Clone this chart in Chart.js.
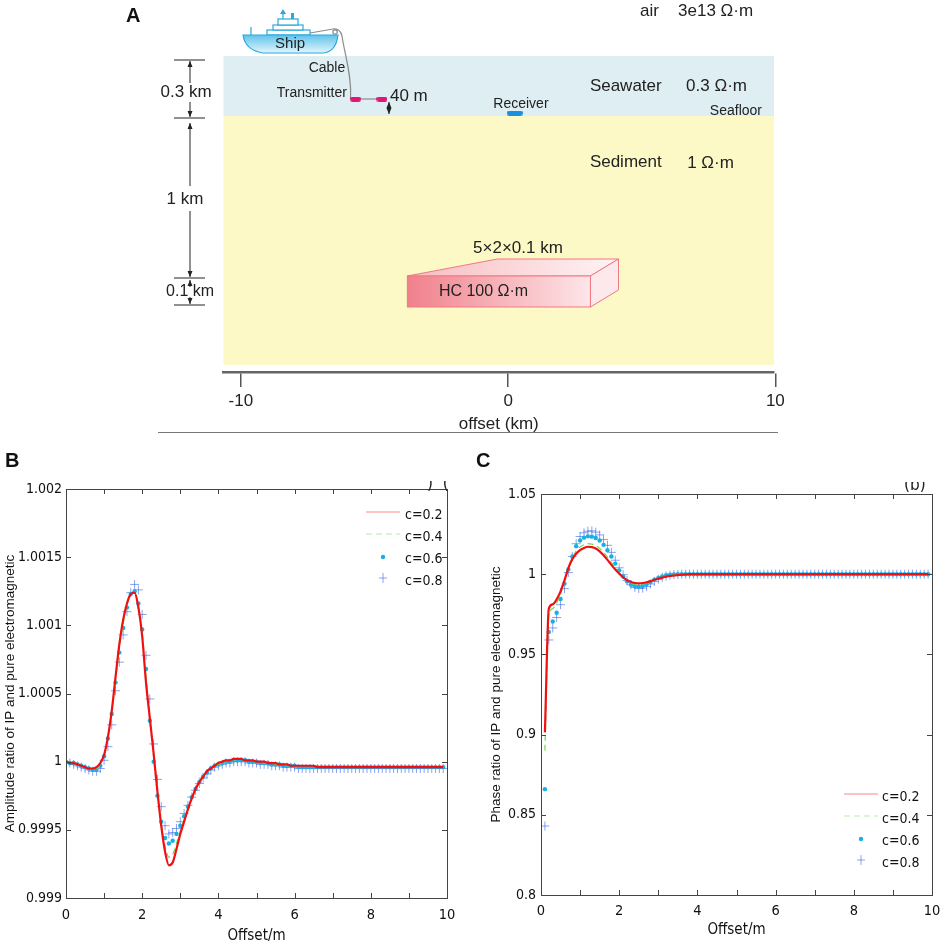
<!DOCTYPE html>
<html>
<head>
<meta charset="utf-8">
<script src="https://cdn.jsdelivr.net/npm/chart.js@4.4.0/dist/chart.umd.min.js"></script>
<style>
  html, body { margin: 0; padding: 0; background: #fff; }
  body { width: 941px; height: 942px; position: relative; overflow: hidden; }
  .panel { position: absolute; }
  .tag { position: absolute; font: bold 20px "Liberation Sans", Arial, sans-serif; line-height: 20px; color: #111; }
</style>
</head>
<body>
<div class="panel" style="left:0;top:0;width:941px;height:440px"><canvas id="modelChart"></canvas></div>
<div class="panel" style="left:0;top:440px;width:470px;height:502px"><canvas id="ampChart"></canvas></div>
<div class="panel" style="left:470px;top:440px;width:471px;height:502px"><canvas id="phaseChart"></canvas></div>
<div class="tag" style="left:126px;top:5px">A</div>
<div class="tag" style="left:5px;top:450px">B</div>
<div class="tag" style="left:476px;top:450px">C</div>
<script>
const NARROW = '"Liberation Sans Narrow", "DejaVu Sans Condensed", "Arial Narrow", sans-serif';
const SANS = '"Liberation Sans", Arial, Helvetica, sans-serif';

// ---- panel A: model ----
const modelTicks = [-10, 0, 10];
const layerNames = ['Seawater', 'Sediment'];
const layerRho = ['0.3 Ω·m', '1 Ω·m'];
const layerTop = [0, 0.3];
const layerBottom = [0.3, 1.545];
const txOffsets = [-5.71, -4.72];
const txDepth = 0.215;
const rxOffset = 0.25;
const rxDepth = 0.285;
const hcOffsets = [-3.77, 3.08];
const hcDepths = [1.1, 1.255];

// ---- panels B and C: offset in m ----
const offsets = [
  0.0, 0.1, 0.2, 0.3, 0.4, 0.5, 0.6, 0.7, 0.8, 0.9,
  1.0, 1.1, 1.2, 1.3, 1.4, 1.5, 1.6, 1.7, 1.8, 1.9,
  2.0, 2.1, 2.2, 2.3, 2.4, 2.5, 2.6, 2.7, 2.8, 2.9,
  3.0, 3.1, 3.2, 3.3, 3.4, 3.5, 3.6, 3.7, 3.8, 3.9,
  4.0, 4.1, 4.2, 4.3, 4.4, 4.5, 4.6, 4.7, 4.8, 4.9,
  5.0, 5.1, 5.2, 5.3, 5.4, 5.5, 5.6, 5.7, 5.8, 5.9,
  6.0, 6.1, 6.2, 6.3, 6.4, 6.5, 6.6, 6.7, 6.8, 6.9,
  7.0, 7.1, 7.2, 7.3, 7.4, 7.5, 7.6, 7.7, 7.8, 7.9,
  8.0, 8.1, 8.2, 8.3, 8.4, 8.5, 8.6, 8.7, 8.8, 8.9,
  9.0, 9.1, 9.2, 9.3, 9.4, 9.5, 9.6, 9.7, 9.8, 9.9
];
const phaseOffsets = offsets.slice(1);
const offsetTicks = [0, 1, 2, 3, 4, 5, 6, 7, 8, 9, 10];
const offsetTickLabels = ['0', '', '2', '', '4', '', '6', '', '8', '', '10'];
const seriesLabels = ['c=0.2', 'c=0.4', 'c=0.6', 'c=0.8'];

const ampTicks = [0.999, 0.9995, 1, 1.0005, 1.001, 1.0015, 1.002];
const ampC02 = [
  1.00000, 0.99999, 0.99999, 0.99998, 0.99997, 0.99996, 0.99995, 0.99995, 0.99996, 0.99999,
  1.00005, 1.00018, 1.00037, 1.00062, 1.00086, 1.00104, 1.00116, 1.00123, 1.00124, 1.00113,
  1.00092, 1.00058, 1.00032, 1.00006, 0.99978, 0.99953, 0.99934, 0.99924, 0.99926, 0.99936,
  0.99947, 0.99956, 0.99965, 0.99973, 0.99980, 0.99985, 0.99989, 0.99993, 0.99995, 0.99997,
  0.99999, 1.00000, 1.00001, 1.00001, 1.00002, 1.00002, 1.00002, 1.00001, 1.00001, 1.00001,
  1.00000, 1.00000, 1.00000, 0.99999, 0.99999, 0.99999, 0.99998, 0.99998, 0.99998, 0.99997,
  0.99997, 0.99997, 0.99997, 0.99997, 0.99997, 0.99997, 0.99996, 0.99996, 0.99996, 0.99996,
  0.99996, 0.99996, 0.99996, 0.99996, 0.99996, 0.99996, 0.99996, 0.99996, 0.99996, 0.99996,
  0.99996, 0.99996, 0.99996, 0.99996, 0.99996, 0.99996, 0.99996, 0.99996, 0.99996, 0.99996,
  0.99996, 0.99996, 0.99996, 0.99996, 0.99996, 0.99996, 0.99996, 0.99996, 0.99996, 0.99996
];
const ampC04 = [
  1.00000, 0.99999, 0.99999, 0.99998, 0.99997, 0.99996, 0.99995, 0.99995, 0.99995, 0.99998,
  1.00005, 1.00018, 1.00036, 1.00060, 1.00083, 1.00101, 1.00115, 1.00123, 1.00125, 1.00114,
  1.00094, 1.00062, 1.00031, 1.00003, 0.99976, 0.99954, 0.99938, 0.99930, 0.99932, 0.99940,
  0.99949, 0.99958, 0.99966, 0.99973, 0.99980, 0.99985, 0.99989, 0.99993, 0.99995, 0.99997,
  0.99998, 0.99999, 1.00000, 1.00001, 1.00001, 1.00002, 1.00001, 1.00001, 1.00001, 1.00000,
  1.00000, 1.00000, 0.99999, 0.99999, 0.99999, 0.99998, 0.99998, 0.99998, 0.99997, 0.99997,
  0.99997, 0.99997, 0.99997, 0.99997, 0.99997, 0.99997, 0.99996, 0.99996, 0.99996, 0.99996,
  0.99996, 0.99996, 0.99996, 0.99996, 0.99996, 0.99996, 0.99996, 0.99996, 0.99996, 0.99996,
  0.99996, 0.99996, 0.99996, 0.99996, 0.99996, 0.99996, 0.99996, 0.99996, 0.99996, 0.99996,
  0.99996, 0.99996, 0.99996, 0.99996, 0.99996, 0.99996, 0.99996, 0.99996, 0.99996, 0.99996
];
const ampC06 = [
  1.00000, 0.99999, 0.99999, 0.99998, 0.99997, 0.99996, 0.99995, 0.99994, 0.99994, 0.99997,
  1.00004, 1.00017, 1.00035, 1.00058, 1.00080, 1.00098, 1.00113, 1.00123, 1.00125, 1.00116,
  1.00097, 1.00068, 1.00030, 1.00000, 0.99975, 0.99956, 0.99944, 0.99940, 0.99942, 0.99947,
  0.99953, 0.99960, 0.99967, 0.99974, 0.99980, 0.99985, 0.99989, 0.99992, 0.99995, 0.99997,
  0.99998, 0.99999, 1.00000, 1.00000, 1.00001, 1.00001, 1.00001, 1.00001, 1.00000, 1.00000,
  1.00000, 0.99999, 0.99999, 0.99999, 0.99998, 0.99998, 0.99998, 0.99997, 0.99997, 0.99997,
  0.99997, 0.99996, 0.99996, 0.99996, 0.99996, 0.99996, 0.99996, 0.99996, 0.99996, 0.99996,
  0.99996, 0.99996, 0.99996, 0.99996, 0.99996, 0.99996, 0.99996, 0.99996, 0.99996, 0.99996,
  0.99996, 0.99996, 0.99996, 0.99996, 0.99996, 0.99996, 0.99996, 0.99996, 0.99996, 0.99996,
  0.99996, 0.99996, 0.99996, 0.99996, 0.99996, 0.99996, 0.99996, 0.99996, 0.99996, 0.99996
];
const ampC08 = [
  1.00000, 0.99999, 0.99998, 0.99997, 0.99996, 0.99995, 0.99994, 0.99993, 0.99993, 0.99995,
  1.00001, 1.00011, 1.00027, 1.00052, 1.00073, 1.00093, 1.00110, 1.00124, 1.00130, 1.00126,
  1.00108, 1.00078, 1.00046, 1.00013, 0.99987, 0.99967, 0.99953, 0.99947, 0.99948, 0.99951,
  0.99956, 0.99962, 0.99968, 0.99974, 0.99979, 0.99984, 0.99988, 0.99991, 0.99994, 0.99996,
  0.99997, 0.99998, 0.99999, 0.99999, 1.00000, 1.00000, 1.00000, 1.00000, 0.99999, 0.99999,
  0.99999, 0.99998, 0.99998, 0.99998, 0.99997, 0.99997, 0.99997, 0.99996, 0.99996, 0.99996,
  0.99996, 0.99995, 0.99995, 0.99995, 0.99995, 0.99995, 0.99995, 0.99995, 0.99995, 0.99995,
  0.99995, 0.99995, 0.99995, 0.99995, 0.99995, 0.99995, 0.99995, 0.99995, 0.99995, 0.99995,
  0.99995, 0.99995, 0.99995, 0.99995, 0.99995, 0.99995, 0.99995, 0.99995, 0.99995, 0.99995,
  0.99995, 0.99995, 0.99995, 0.99995, 0.99995, 0.99995, 0.99995, 0.99995, 0.99995, 0.99995
];

const phaseTicks = [0.8, 0.85, 0.9, 0.95, 1, 1.05];
const phaseC02 = [
          0.9014, 0.9785, 0.9812, 0.9843, 0.9893, 0.9962, 1.0038, 1.0094, 1.0128,
  1.0150, 1.0164, 1.0171, 1.0169, 1.0160, 1.0142, 1.0118, 1.0089, 1.0058, 1.0029,
  1.0004, 0.9981, 0.9963, 0.9951, 0.9945, 0.9943, 0.9945, 0.9950, 0.9957, 0.9965,
  0.9972, 0.9979, 0.9985, 0.9989, 0.9992, 0.9995, 0.9997, 0.9999, 1.0000, 1.0000,
  1.0000, 1.0000, 1.0000, 1.0000, 1.0000, 1.0000, 1.0000, 1.0000, 1.0000, 1.0000,
  1.0000, 1.0000, 1.0000, 1.0000, 1.0000, 1.0000, 1.0000, 1.0000, 1.0000, 1.0000,
  1.0000, 1.0000, 1.0000, 1.0000, 1.0000, 1.0000, 1.0000, 1.0000, 1.0000, 1.0000,
  1.0000, 1.0000, 1.0000, 1.0000, 1.0000, 1.0000, 1.0000, 1.0000, 1.0000, 1.0000,
  1.0000, 1.0000, 1.0000, 1.0000, 1.0000, 1.0000, 1.0000, 1.0000, 1.0000, 1.0000,
  1.0000, 1.0000, 1.0000, 1.0000, 1.0000, 1.0000, 1.0000, 1.0000, 1.0000, 1.0000
];
const phaseC04 = [
          0.8900, 0.9740, 0.9785, 0.9820, 0.9878, 0.9955, 1.0036, 1.0100, 1.0145,
  1.0170, 1.0184, 1.0190, 1.0188, 1.0179, 1.0161, 1.0136, 1.0106, 1.0072, 1.0039,
  1.0010, 0.9983, 0.9962, 0.9946, 0.9938, 0.9936, 0.9939, 0.9946, 0.9955, 0.9965,
  0.9974, 0.9981, 0.9987, 0.9991, 0.9994, 0.9996, 0.9998, 0.9999, 1.0000, 1.0000,
  1.0000, 1.0000, 1.0000, 1.0000, 1.0000, 1.0000, 1.0000, 1.0000, 1.0000, 1.0000,
  1.0000, 1.0000, 1.0000, 1.0000, 1.0000, 1.0000, 1.0000, 1.0000, 1.0000, 1.0000,
  1.0000, 1.0000, 1.0000, 1.0000, 1.0000, 1.0000, 1.0000, 1.0000, 1.0000, 1.0000,
  1.0000, 1.0000, 1.0000, 1.0000, 1.0000, 1.0000, 1.0000, 1.0000, 1.0000, 1.0000,
  1.0000, 1.0000, 1.0000, 1.0000, 1.0000, 1.0000, 1.0000, 1.0000, 1.0000, 1.0000,
  1.0000, 1.0000, 1.0000, 1.0000, 1.0000, 1.0000, 1.0000, 1.0000, 1.0000, 1.0000
];
const phaseC06 = [
          0.8660, 0.9640, 0.9705, 0.9760, 0.9845, 0.9940, 1.0030, 1.0110, 1.0175,
  1.0210, 1.0228, 1.0236, 1.0234, 1.0226, 1.0210, 1.0183, 1.0150, 1.0110, 1.0066,
  1.0024, 0.9986, 0.9955, 0.9935, 0.9925, 0.9922, 0.9926, 0.9937, 0.9952, 0.9966,
  0.9977, 0.9986, 0.9993, 0.9997, 0.9999, 1.0000, 1.0000, 1.0000, 1.0000, 1.0000,
  1.0000, 1.0000, 1.0000, 1.0000, 1.0000, 1.0000, 1.0000, 1.0000, 1.0000, 1.0000,
  1.0000, 1.0000, 1.0000, 1.0000, 1.0000, 1.0000, 1.0000, 1.0000, 1.0000, 1.0000,
  1.0000, 1.0000, 1.0000, 1.0000, 1.0000, 1.0000, 1.0000, 1.0000, 1.0000, 1.0000,
  1.0000, 1.0000, 1.0000, 1.0000, 1.0000, 1.0000, 1.0000, 1.0000, 1.0000, 1.0000,
  1.0000, 1.0000, 1.0000, 1.0000, 1.0000, 1.0000, 1.0000, 1.0000, 1.0000, 1.0000,
  1.0000, 1.0000, 1.0000, 1.0000, 1.0000, 1.0000, 1.0000, 1.0000, 1.0000, 1.0000
];
const phaseC08 = [
          0.8430, 0.9590, 0.9665, 0.9730, 0.9810, 0.9910, 1.0010, 1.0110, 1.0190,
  1.0235, 1.0258, 1.0268, 1.0270, 1.0262, 1.0245, 1.0216, 1.0180, 1.0136, 1.0087,
  1.0040, 0.9997, 0.9961, 0.9934, 0.9918, 0.9911, 0.9913, 0.9923, 0.9939, 0.9955,
  0.9969, 0.9980, 0.9988, 0.9994, 0.9997, 0.9999, 1.0000, 1.0000, 1.0000, 1.0000,
  1.0000, 1.0000, 1.0000, 1.0000, 1.0000, 1.0000, 1.0000, 1.0000, 1.0000, 1.0000,
  1.0000, 1.0000, 1.0000, 1.0000, 1.0000, 1.0000, 1.0000, 1.0000, 1.0000, 1.0000,
  1.0000, 1.0000, 1.0000, 1.0000, 1.0000, 1.0000, 1.0000, 1.0000, 1.0000, 1.0000,
  1.0000, 1.0000, 1.0000, 1.0000, 1.0000, 1.0000, 1.0000, 1.0000, 1.0000, 1.0000,
  1.0000, 1.0000, 1.0000, 1.0000, 1.0000, 1.0000, 1.0000, 1.0000, 1.0000, 1.0000,
  1.0000, 1.0000, 1.0000, 1.0000, 1.0000, 1.0000, 1.0000, 1.0000, 1.0000, 1.0000
];

Chart.defaults.color = '#111';
Chart.defaults.font.family = SANS;

function capsule(w, h, color) {
  const c = document.createElement('canvas');
  c.width = w; c.height = h;
  const g = c.getContext('2d');
  const r = h / 2;
  g.fillStyle = color;
  g.beginPath();
  g.moveTo(r, 0); g.lineTo(w - r, 0);
  g.arc(w - r, r, r, -Math.PI / 2, Math.PI / 2);
  g.lineTo(r, h);
  g.arc(r, r, r, Math.PI / 2, Math.PI * 1.5);
  g.fill();
  return c;
}

function arrow(ctx, x, y0, y1) {
  ctx.beginPath(); ctx.moveTo(x, y0); ctx.lineTo(x, y1); ctx.stroke();
  const d = y1 > y0 ? 1 : -1;
  ctx.beginPath();
  ctx.moveTo(x, y1); ctx.lineTo(x - 2.5, y1 - d * 6); ctx.lineTo(x + 2.5, y1 - d * 6);
  ctx.closePath(); ctx.fill();
}

const modelPlugin = {
  id: 'model',
  beforeDatasetsDraw(chart) {
    const {ctx, scales: {x: xs, y: ys}} = chart;
    const X = v => xs.getPixelForValue(v), Y = v => ys.getPixelForValue(v);
    const fills = ['#dfeef3', '#fcf9c6'];
    ctx.save();
    layerTop.forEach((t, i) => {
      ctx.fillStyle = fills[i];
      ctx.fillRect(X(xs.min), Y(t), X(xs.max) - X(xs.min), Y(layerBottom[i]) - Y(t));
    });

    // hydrocarbon body, drawn as a box
    const l = X(hcOffsets[0]), r = X(hcOffsets[1]), t = Y(hcDepths[0]), b = Y(hcDepths[1]);
    const bl = X(-0.4), br = X(4.13), bt = Y(1.015), bb = Y(1.17);
    ctx.strokeStyle = '#f07882';
    ctx.lineWidth = 1;
    let g = ctx.createLinearGradient(l, 0, br, 0);
    g.addColorStop(0, '#f7bcc1'); g.addColorStop(1, '#fff3f4');
    ctx.fillStyle = g;
    ctx.beginPath(); ctx.moveTo(l, t); ctx.lineTo(bl, bt); ctx.lineTo(br, bt); ctx.lineTo(r, t); ctx.closePath();
    ctx.fill(); ctx.stroke();
    ctx.fillStyle = '#fde9eb';
    ctx.beginPath(); ctx.moveTo(r, t); ctx.lineTo(br, bt); ctx.lineTo(br, bb); ctx.lineTo(r, b); ctx.closePath();
    ctx.fill(); ctx.stroke();
    g = ctx.createLinearGradient(l, 0, r, 0);
    g.addColorStop(0, '#f0808b'); g.addColorStop(1, '#fde6e8');
    ctx.fillStyle = g;
    ctx.fillRect(l, t, r - l, b - t);
    ctx.strokeRect(l, t, r - l, b - t);

    // ship
    const sx = X(-9.92), sy = Y(0);
    ctx.strokeStyle = '#8c8c8c'; ctx.lineWidth = 1.2;
    ctx.beginPath();
    ctx.moveTo(sx + 67, sy - 23);
    ctx.lineTo(sx + 90, sy - 27);
    ctx.quadraticCurveTo(sx + 97, sy - 28, sx + 99, sy - 20);
    ctx.bezierCurveTo(sx + 102, sy + 0, sx + 109, sy + 20, X(txOffsets[0]) - 5, Y(txDepth));
    ctx.stroke();
    ctx.beginPath(); ctx.arc(sx + 92, sy - 24, 2.2, 0, Math.PI * 2); ctx.stroke();
    ctx.beginPath();
    ctx.moveTo(X(txOffsets[0]) + 5, Y(txDepth)); ctx.lineTo(X(txOffsets[1]) - 5, Y(txDepth));
    ctx.stroke();

    ctx.strokeStyle = '#2aa8de'; ctx.lineWidth = 1.2; ctx.fillStyle = '#fff';
    [[24, -26, 43, 5], [30, -31, 30, 5], [35, -37, 20, 6]].forEach(([dx, dy, w, h]) => {
      ctx.fillRect(sx + dx, sy + dy, w, h); ctx.strokeRect(sx + dx, sy + dy, w, h);
    });
    ctx.beginPath();
    ctx.moveTo(sx + 40, sy - 37); ctx.lineTo(sx + 40, sy - 45);
    ctx.moveTo(sx + 8, sy - 21); ctx.lineTo(sx + 8, sy - 29);
    ctx.stroke();
    ctx.fillStyle = '#2aa8de';
    ctx.beginPath(); ctx.moveTo(sx + 40, sy - 47); ctx.lineTo(sx + 37, sy - 42); ctx.lineTo(sx + 43, sy - 42); ctx.fill();
    ctx.fillRect(sx + 48, sy - 43, 3, 6);
    g = ctx.createLinearGradient(0, sy - 21, 0, sy - 3);
    g.addColorStop(0, '#5fc3ea'); g.addColorStop(1, '#e4f5fc');
    ctx.fillStyle = g;
    ctx.beginPath();
    ctx.moveTo(sx, sy - 21); ctx.lineTo(sx + 95, sy - 21);
    ctx.quadraticCurveTo(sx + 93, sy - 4, sx + 80, sy - 3);
    ctx.lineTo(sx + 20, sy - 3);
    ctx.quadraticCurveTo(sx + 2, sy - 6, sx, sy - 21);
    ctx.closePath(); ctx.fill(); ctx.stroke();

    // depth scale on the left
    const dx = xs.left - 33.5;
    const levels = [0.02, 0.31, 1.11, 1.245].map(Y);
    ctx.strokeStyle = '#222'; ctx.fillStyle = '#222'; ctx.lineWidth = 1;
    ctx.beginPath();
    levels.forEach(v => { ctx.moveTo(dx - 16, v); ctx.lineTo(dx + 15, v); });
    ctx.stroke();
    arrow(ctx, dx, Y(0.18) - 9, levels[0] + 1);
    arrow(ctx, dx, Y(0.18) + 10, levels[1] - 1);
    arrow(ctx, dx, Y(0.715) - 13, levels[1] + 5);
    arrow(ctx, dx, Y(0.715) + 12, levels[2] - 1);
    arrow(ctx, dx, levels[2] + 9, levels[2] + 2);
    arrow(ctx, dx, levels[3] - 8, levels[3] - 1);

    // 40 m height arrows
    const ax = X(txOffsets[1]) + 7;
    arrow(ctx, ax, Y(txDepth) + 8, Y(txDepth) + 3);
    arrow(ctx, ax, Y(txDepth) + 8, Y(0.3) - 2);
    ctx.restore();
  },
  afterDraw(chart) {
    const {ctx, scales: {x: xs, y: ys}} = chart;
    const X = v => xs.getPixelForValue(v), Y = v => ys.getPixelForValue(v);
    const texts = [
      ['air', 4.94, -0.225, 'left', 17],
      ['3e13 Ω·m', 6.36, -0.225, 'left', 17],
      [layerNames[0], 3.06, 0.15, 'left', 17],
      [layerRho[0], 6.66, 0.15, 'left', 17],
      ['Seafloor', 9.5, 0.275, 'right', 14],
      ['Receiver', 0.48, 0.24, 'center', 14],
      [layerNames[1], 3.06, 0.53, 'left', 17],
      [layerRho[1], 6.7, 0.535, 'left', 17],
      ['5×2×0.1 km', -1.31, 0.96, 'left', 17],
      ['HC 100 Ω·m', -2.59, 1.18, 'left', 16],
      ['Transmitter', -6.03, 0.185, 'right', 14],
      ['Cable', -6.78, 0.06, 'center', 14],
      ['40 m', -4.42, 0.2, 'left', 17],
      ['Ship', -8.16, -0.06, 'center', 15],
      ['0.3 km', -12.05, 0.18, 'center', 17],
      ['1 km', -12.09, 0.715, 'center', 17],
      ['0.1 km', -11.9, 1.18, 'center', 16]
    ];
    ctx.save();
    ctx.fillStyle = '#222';
    ctx.textBaseline = 'middle';
    texts.forEach(([s, x, y, align, size]) => {
      ctx.font = size + 'px ' + SANS;
      ctx.textAlign = align;
      ctx.fillText(s, X(x), Y(y));
    });
    ctx.strokeStyle = '#777'; ctx.lineWidth = 1;
    ctx.beginPath();
    ctx.moveTo(xs.left - 65.5, chart.height - 7.5); ctx.lineTo(xs.right + 4, chart.height - 7.5);
    ctx.stroke();
    ctx.restore();
  }
};

new Chart(document.getElementById('modelChart'), {
  type: 'scatter',
  data: {
    datasets: [
      { label: 'Transmitter', data: txOffsets.map(x => ({x, y: txDepth})), pointStyle: capsule(11, 5, '#e0167a'), pointRadius: 5 },
      { label: 'Receiver', data: [{x: rxOffset, y: rxDepth}], pointStyle: capsule(16, 5, '#1a8fdc'), pointRadius: 5 }
    ]
  },
  options: {
    responsive: true, maintainAspectRatio: false, animation: false, events: [],
    layout: { autoPadding: false, padding: { left: 223.5, right: 167, top: 0, bottom: 0 } },
    plugins: { legend: { display: false }, tooltip: { enabled: false } },
    scales: {
      x: {
        type: 'linear', min: -10.65, max: 9.95,
        afterBuildTicks: s => { s.ticks = modelTicks.map(v => ({value: v})); },
        afterFit: s => { s.height = 68; s.paddingLeft = 0; s.paddingRight = 0; },
        ticks: { font: { family: SANS, size: 17 }, color: '#222', padding: 4, autoSkip: false, maxRotation: 0, callback: v => String(v) },
        grid: { display: true, drawOnChartArea: false, drawTicks: true, tickLength: 15, color: '#555', lineWidth: 1.5 },
        border: { display: true, color: '#666', width: 2.5 },
        title: { display: true, text: 'offset (km)', font: { family: SANS, size: 17 }, color: '#222', padding: { top: 0, bottom: 5 } }
      },
      y: { type: 'linear', min: -0.28, max: 1.58, reverse: true, display: false }
    }
  },
  plugins: [modelPlugin]
});

// ---- panels B and C ----
const framePlugin = {
  id: 'frame',
  afterDraw(chart, args, opts) {
    const {ctx, chartArea: a, scales: {x, y}} = chart;
    ctx.save();
    ctx.strokeStyle = '#444';
    ctx.lineWidth = 1;
    ctx.strokeRect(Math.round(a.left) + 0.5, Math.round(a.top) + 0.5, Math.round(a.right - a.left), Math.round(a.bottom - a.top));
    ctx.beginPath();
    x.ticks.forEach(t => {
      const p = Math.round(x.getPixelForValue(t.value)) + 0.5;
      ctx.moveTo(p, a.bottom); ctx.lineTo(p, a.bottom - 5);
      ctx.moveTo(p, a.top); ctx.lineTo(p, a.top + 5);
    });
    y.ticks.forEach(t => {
      const p = Math.round(y.getPixelForValue(t.value)) + 0.5;
      ctx.moveTo(a.left, p); ctx.lineTo(a.left + 5, p);
      ctx.moveTo(a.right, p); ctx.lineTo(a.right - 5, p);
    });
    ctx.stroke();
    // cropped panel letters from the source figure
    ctx.beginPath(); ctx.rect(opts.cropX, opts.cropY, 40, 12); ctx.clip();
    ctx.fillStyle = '#222';
    ctx.font = '17px ' + NARROW;
    ctx.textBaseline = 'alphabetic';
    ctx.fillText(opts.cropText, opts.cropX + 2, opts.cropY + 8);
    ctx.restore();
  }
};

const insideLegend = {
  id: 'insideLegend',
  afterDraw(chart, args, opts) {
    const ctx = chart.ctx;
    ctx.save();
    ctx.font = '14px ' + NARROW;
    ctx.textBaseline = 'middle';
    ctx.textAlign = 'left';
    chart.data.datasets.forEach((ds, i) => {
      const y = opts.top + i * opts.gap;
      const cx = opts.symbolX;
      if (ds.showLine === false) {
        if (ds.pointStyle === 'circle') {
          ctx.fillStyle = ds.pointBackgroundColor;
          ctx.beginPath(); ctx.arc(cx, y - 2, ds.pointRadius, 0, Math.PI * 2); ctx.fill();
        } else {
          ctx.strokeStyle = ds.pointBorderColor; ctx.lineWidth = 1;
          ctx.beginPath();
          ctx.moveTo(cx - 4, y - 3); ctx.lineTo(cx + 4, y - 3);
          ctx.moveTo(cx, y - 8); ctx.lineTo(cx, y + 2);
          ctx.stroke();
        }
      } else {
        ctx.strokeStyle = ds.borderColor; ctx.globalAlpha = 0.5; ctx.lineWidth = 1.2;
        ctx.setLineDash(ds.borderDash || []);
        ctx.beginPath(); ctx.moveTo(cx - 17, y - 3); ctx.lineTo(cx + 17, y - 3); ctx.stroke();
        ctx.setLineDash([]); ctx.globalAlpha = 1;
      }
      ctx.fillStyle = '#111';
      ctx.fillText(ds.label, opts.textX, y);
    });
    ctx.restore();
  }
};

function ratioChart(id, xVals, series, yTicks, yTitle, cfg) {
  const pts = ys => xVals.map((x, i) => ({x, y: ys[i]}));
  return new Chart(document.getElementById(id), {
    type: 'line',
    data: {
      datasets: [
        { label: seriesLabels[0], data: pts(series[0]), borderColor: '#f01010', borderWidth: 2.2, pointRadius: 0, cubicInterpolationMode: 'monotone', order: 0 },
        { label: seriesLabels[1], data: pts(series[1]), borderColor: '#72d84e', borderWidth: 1.2, borderDash: [6, 4], pointRadius: 0, cubicInterpolationMode: 'monotone', order: 1 },
        { label: seriesLabels[2], data: pts(series[2]), showLine: false, pointStyle: 'circle', pointRadius: 2.2, pointBackgroundColor: '#17b0e6', pointBorderWidth: 0, order: 2 },
        { label: seriesLabels[3], data: pts(series[3]), showLine: false, pointStyle: 'cross', pointRadius: 4.5, pointBorderColor: 'rgba(60,100,225,0.6)', pointBorderWidth: 1, order: 3 }
      ]
    },
    options: {
      responsive: true, maintainAspectRatio: false, animation: false, events: [],
      layout: { autoPadding: false, padding: cfg.padding },
      plugins: {
        legend: { display: false }, tooltip: { enabled: false },
        insideLegend: cfg.legend,
        frame: cfg.crop
      },
      scales: {
        x: {
          type: 'linear', min: 0, max: 10,
          afterBuildTicks: s => { s.ticks = offsetTicks.map(v => ({value: v})); },
          afterFit: s => { s.height = cfg.xHeight; s.paddingLeft = 0; s.paddingRight = 0; },
          ticks: { font: { family: NARROW, size: 14.5 }, color: '#111', padding: cfg.xPad, autoSkip: false, maxRotation: 0, callback: (v, i) => offsetTickLabels[i] },
          grid: { display: false, drawTicks: false },
          border: { display: false },
          title: { display: true, text: 'Offset/m', font: { family: NARROW, size: 15 }, color: '#111', padding: { top: 0, bottom: cfg.xTitlePad } }
        },
        y: {
          type: 'linear', min: yTicks[0], max: yTicks[yTicks.length - 1],
          afterBuildTicks: s => { s.ticks = yTicks.map(v => ({value: v})); },
          afterFit: s => { s.width = cfg.yWidth; s.paddingTop = 0; s.paddingBottom = 0; },
          ticks: { font: { family: NARROW, size: 14 }, color: '#111', padding: cfg.yPad, autoSkip: false, callback: v => String(v) },
          grid: { display: false, drawTicks: false },
          border: { display: false },
          title: { display: true, text: yTitle, font: { family: SANS, size: 13.5 }, color: '#111', padding: { top: 2, bottom: 0 } }
        }
      }
    },
    plugins: [framePlugin, insideLegend]
  });
}

ratioChart('ampChart', offsets, [ampC02, ampC04, ampC06, ampC08], ampTicks,
  'Amplitude ratio of IP and pure electromagnetic', {
    padding: { left: 0, right: 23, top: 49, bottom: 0 },
    xHeight: 44, xPad: 9, xTitlePad: -3, yWidth: 66, yPad: 4,
    legend: { textX: 405, symbolX: 383, top: 75, gap: 22 },
    crop: { cropX: 425, cropY: 41, cropText: ')  (' }
  });

ratioChart('phaseChart', phaseOffsets, [phaseC02, phaseC04, phaseC06, phaseC08], phaseTicks,
  'Phase ratio of IP and pure electromagnetic', {
    padding: { left: 16, right: 9, top: 54, bottom: 0 },
    xHeight: 47, xPad: 8, xTitlePad: 3, yWidth: 55, yPad: 5,
    legend: { textX: 412, symbolX: 391, top: 357, gap: 22 },
    crop: { cropX: 432, cropY: 42, cropText: '(b)' }
  });
</script>
</body>
</html>
